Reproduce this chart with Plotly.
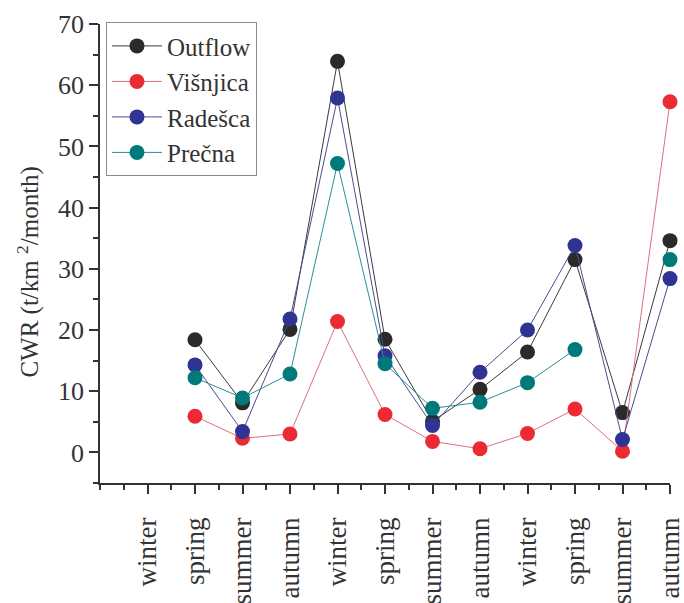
import plotly.graph_objects as go

# Seasonal sequence (three years, winter to autumn)
seasons = ["winter", "spring", "summer", "autumn",
           "winter", "spring", "summer", "autumn",
           "winter", "spring", "summer", "autumn"]
positions = list(range(1, len(seasons) + 1))

# CWR values (t/km²/month); None = no sample
outflow = [None, 18.4, 8.1, 20.1, 63.9, 18.5, 5.1, 10.3, 16.4, 31.5, 6.5, 34.6]
visnjica = [None, 5.9, 2.3, 3.0, 21.4, 6.2, 1.8, 0.6, 3.1, 7.1, 0.2, 57.3]
radesca = [None, 14.3, 3.4, 21.8, 57.9, 15.8, 4.4, 13.1, 20.0, 33.8, 2.1, 28.4]
precna = [None, 12.2, 8.9, 12.8, 47.2, 14.5, 7.2, 8.2, 11.4, 16.8, None, 31.5]

series = [
    ("Outflow", outflow, "#2a2a2a", "#3a3a3a"),
    ("Višnjica", visnjica, "#ec2a33", "#d9737b"),
    ("Radešca", radesca, "#2f3393", "#4a4d8e"),
    ("Prečna", precna, "#00797b", "#2f8f91"),
]

FONT = "Liberation Serif"
TEXT = "#333333"

fig = go.Figure()
for name, vals, mcol, lcol in series:
    fig.add_trace(go.Scatter(
        x=positions, y=vals, name=name, mode="lines+markers",
        connectgaps=False, cliponaxis=False,
        line=dict(color=lcol, width=1),
        marker=dict(color=mcol, size=15, line=dict(width=0)),
    ))

fig.update_layout(
    width=684, height=603,
    margin=dict(l=100, r=14, t=24, b=120),
    paper_bgcolor="white", plot_bgcolor="white",
    font=dict(family=FONT, color=TEXT, size=26),
    showlegend=True,
    legend=dict(
        x=0.0105, y=1.004, xanchor="left", yanchor="top",
        bgcolor="white", bordercolor="#8a8a8a", borderwidth=1,
        font=dict(family=FONT, size=25, color=TEXT),
        tracegroupgap=0, itemwidth=50,
    ),
)

fig.update_xaxes(
    range=[0, 12], tickvals=positions, ticktext=seasons,
    tickangle=-90, showgrid=False, zeroline=False, automargin=False,
    showline=True, linecolor="#333333", linewidth=1.5,
    ticks="outside", ticklen=9, tickwidth=1.5, tickcolor="#333333",
    minor=dict(dtick=0.5, tick0=0, ticks="outside", ticklen=5,
               tickwidth=1.5, tickcolor="#333333", showgrid=False),
    tickfont=dict(family=FONT, size=27, color=TEXT),
    ticklabelstandoff=13, ticklabeloverflow="allow",
)

fig.update_yaxes(
    range=[-5, 70], tickvals=[0, 10, 20, 30, 40, 50, 60, 70],
    showgrid=False, zeroline=False, automargin=False,
    showline=True, linecolor="#333333", linewidth=1.5,
    ticks="outside", ticklen=9, tickwidth=1.5, tickcolor="#333333",
    minor=dict(dtick=5, tick0=0, ticks="outside", ticklen=5,
               tickwidth=1.5, tickcolor="#333333", showgrid=False),
    tickfont=dict(family=FONT, size=26, color=TEXT),
)

fig.add_annotation(
    text="CWR (t/km <sup>2</sup>/month)",
    xref="paper", yref="paper", x=-0.125, y=0.46,
    xanchor="center", yanchor="middle", textangle=-90, showarrow=False,
    font=dict(family=FONT, size=25, color=TEXT),
)

fig.write_html("out.html")
